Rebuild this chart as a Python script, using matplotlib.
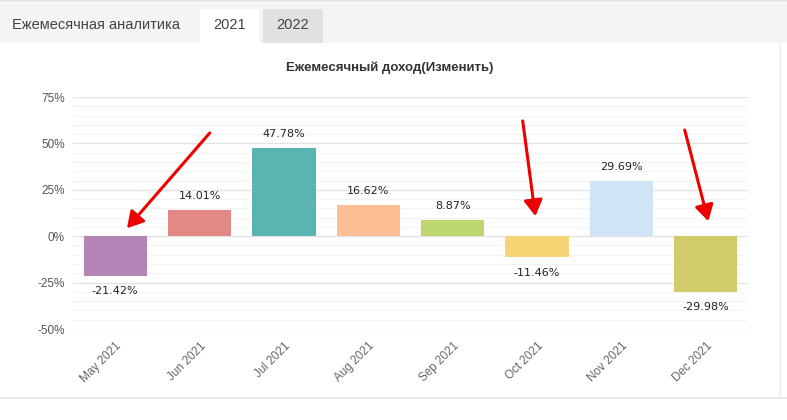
"""Monthly income bar chart with tab header, matplotlib version."""

import matplotlib

matplotlib.use("Agg")

import matplotlib.pyplot as plt
from matplotlib.patches import Rectangle


months = ["May 2021", "Jun 2021", "Jul 2021", "Aug 2021",
          "Sep 2021", "Oct 2021", "Nov 2021", "Dec 2021"]
income = [-21.42, 14.01, 47.78, 16.62, 8.87, -11.46, 29.69, -29.98]
bar_colors = ["#b384b5", "#e38985", "#5ab4b0", "#ffbf94",
              "#bdd670", "#f7d474", "#cfe5f7", "#d1cc6b"]
y_ticks = [-50, -25, 0, 25, 50, 75]
tab_labels = ["Ежемесячная аналитика", "2021", "2022"]
chart_title = "Ежемесячный доход(Изменить)"

# red arrows drawn over the chart (start point, end point) in data units
arrows = [((1.12, 55.6), (0.14, 4.3)),
          ((4.83, 62.1), (4.98, 10.8)),
          ((6.75, 57.2), (7.03, 8.1))]

W, H = 787, 420

plt.rcParams["font.family"] = ["Liberation Sans", "DejaVu Sans"]

fig = plt.figure(figsize=(W / 100, H / 100), dpi=100)


def px_rect(x, y, w, h, color, **kw):
    """Rectangle given in pixel coords from the top left."""
    fig.patches.append(Rectangle((x / W, 1 - (y + h) / H), w / W, h / H,
                                 transform=fig.transFigure, facecolor=color,
                                 edgecolor="none", **kw))


# tab header
px_rect(0, 0, W, 2, "#e6e6e6")
px_rect(0, 3, W, 40, "#f4f4f4")
px_rect(200, 9, 59, 34, "#ffffff")
px_rect(263, 9, 60, 34, "#e1e1e1")
fig.text(12 / W, 1 - 25 / H, tab_labels[0], fontsize=10.5, color="#444444",
         va="center", ha="left")
fig.text(229.5 / W, 1 - 25 / H, tab_labels[1], fontsize=10.5, color="#444444",
         va="center", ha="center")
fig.text(293 / W, 1 - 25 / H, tab_labels[2], fontsize=10.5, color="#444444",
         va="center", ha="center")
# panel borders
px_rect(780, 43, 1, 355, "#e8e8e8")
px_rect(0, 397, W, 1.5, "#e8e8e8")

# chart title sits centred on the panel, not on the axes
fig.text(390 / W, 1 - 68 / H, chart_title, fontsize=9.5, fontweight="bold",
         color="#333333", ha="center", va="center")

ax = fig.add_axes([73 / W, 1 - 329 / H, 675 / W, 232 / H])
x = range(len(months))
ax.bar(x, income, width=0.75, color=bar_colors, zorder=3)

for xi, value in zip(x, income):
    offset = 10 if value >= 0 else -11
    ax.annotate(f"{value:.2f}%", (xi, value), xytext=(0, offset),
                textcoords="offset points", ha="center", va="center",
                fontsize=8, color="#222222", family="DejaVu Sans")

for start, end in arrows:
    ax.annotate("", xy=end, xytext=start,
                arrowprops=dict(arrowstyle="-|>,head_length=0.6,head_width=0.35",
                                color="#ee0000", lw=2.2,
                                mutation_scale=16, shrinkA=0, shrinkB=0),
                zorder=5)

ax.set_xlim(-0.5, len(months) - 0.5)
ax.set_ylim(-50, 75)
ax.set_yticks(y_ticks)
ax.set_yticklabels([f"{t}%" for t in y_ticks])
ax.set_yticks(range(-45, 75, 5), minor=True)
ax.grid(axis="y", which="major", color="#e3e3e3", lw=1, zorder=0)
ax.grid(axis="y", which="minor", color="#f3f3f3", lw=0.8, zorder=0)
ax.tick_params(axis="y", which="both", length=0, labelsize=8.5,
               labelcolor="#555555", pad=6)
ax.set_xticks(list(x))
ax.set_xticklabels(months, rotation=45, ha="right", rotation_mode="anchor")
ax.tick_params(axis="x", length=0, labelsize=8.5, labelcolor="#666666", pad=8)
for spine in ax.spines.values():
    spine.set_visible(False)

fig.savefig("out.png", dpi=100)
